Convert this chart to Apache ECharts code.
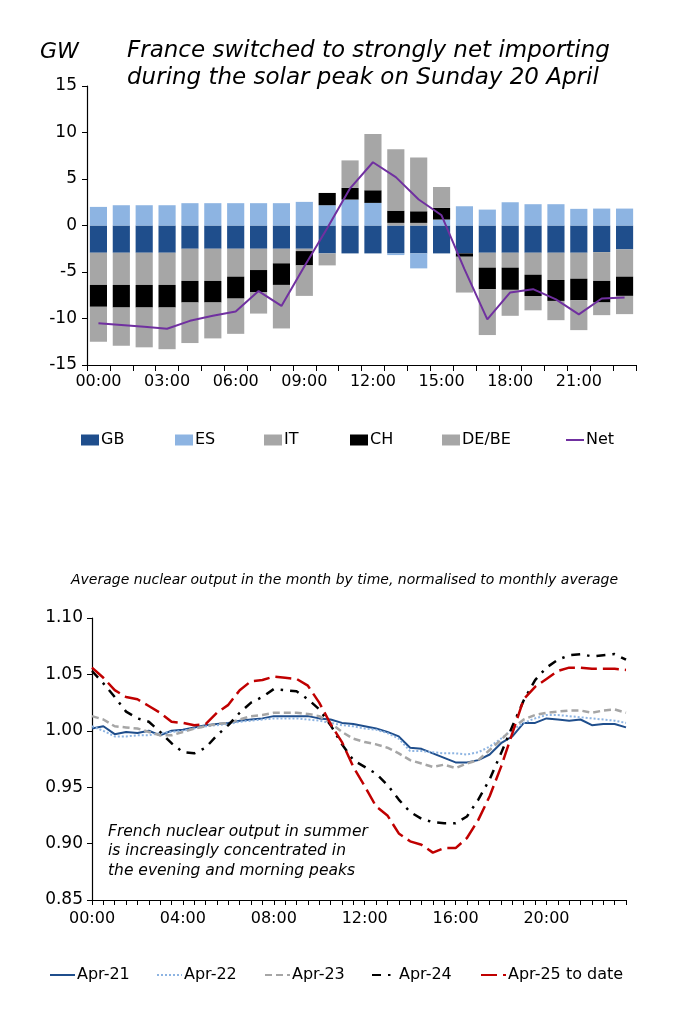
<!DOCTYPE html>
<html>
<head>
<meta charset="utf-8">
<script src="https://cdn.jsdelivr.net/npm/echarts@6/dist/echarts.min.js"></script>
<style>
html,body{margin:0;padding:0;background:#fff;}
#chart{width:690px;height:1024px;}
</style>
</head>
<body>
<div id="chart"></div>
<script>
// ---------- Top chart: hourly flows (GW) ----------
const hours = ['00:00','01:00','02:00','03:00','04:00','05:00','06:00','07:00','08:00','09:00','10:00','11:00',
  '12:00','13:00','14:00','15:00','16:00','17:00','18:00','19:00','20:00','21:00','22:00','23:00'];
const gbFlow = [-2.93,-2.93,-2.93,-2.93,-2.5,-2.5,-2.5,-2.5,-2.5,-2.5,-3.0,-3.0,-3.0,-3.0,-3.0,-3.0,-3.0,-2.93,-2.93,-2.93,-2.93,-2.93,-2.86,-2.57];
const esFlow = [2.0,2.18,2.18,2.18,2.4,2.4,2.4,2.4,2.4,2.54,2.18,2.79,2.43,-0.18,-1.61,0.64,2.07,1.71,2.5,2.29,2.29,1.79,1.82,1.82];
const itFlow = [-3.46,-3.46,-3.46,-3.46,-3.46,-3.46,-3.0,-2.29,-1.57,-0.25,-1.29,0,0,0.28,0.28,0,0,-1.6,-1.6,-2.36,-2.93,-2.79,-3.1,-2.93];
const chFlow = [-2.35,-2.43,-2.43,-2.43,-2.32,-2.32,-2.36,-2.36,-2.32,-1.54,1.32,1.25,1.36,1.32,1.25,1.25,-0.36,-2.32,-2.39,-2.29,-2.25,-2.32,-2.32,-2.07];
const debeFlow = [-3.76,-4.11,-4.28,-4.48,-4.36,-3.86,-3.79,-2.32,-4.68,-3.28,0,2.96,6.04,6.6,5.79,2.25,-3.85,-4.93,-2.79,-1.54,-2.07,-3.21,-1.36,-1.96];
const netFlow = [-10.5,-10.7,-10.9,-11.1,-10.25,-9.7,-9.25,-7.05,-8.65,-4.4,-0.3,4.0,6.8,5.2,2.8,1.1,-4.7,-10.1,-7.2,-6.85,-7.95,-9.55,-7.85,-7.75];
const topTicks = [-15,-10,-5,0,5,10,15];

// ---------- Bottom chart: normalised nuclear output ----------
const halfHours = ['00:00','00:30','01:00','01:30','02:00','02:30','03:00','03:30','04:00','04:30','05:00','05:30',
  '06:00','06:30','07:00','07:30','08:00','08:30','09:00','09:30','10:00','10:30','11:00','11:30',
  '12:00','12:30','13:00','13:30','14:00','14:30','15:00','15:30','16:00','16:30','17:00','17:30',
  '18:00','18:30','19:00','19:30','20:00','20:30','21:00','21:30','22:00','22:30','23:00','23:30'];
const apr21 = [1.002,1.004,0.997,0.999,0.998,1.000,0.996,1.000,1.001,1.003,1.005,1.006,1.007,1.009,1.010,1.011,1.013,1.013,1.013,1.013,1.011,1.010,1.007,1.006,
  1.004,1.002,0.999,0.995,0.985,0.984,0.980,0.976,0.972,0.972,0.974,0.979,0.989,0.995,1.007,1.007,1.011,1.010,1.009,1.010,1.005,1.006,1.006,1.003];
const apr22 = [1.004,1.000,0.995,0.995,0.996,0.996,0.998,0.999,1.000,1.002,1.004,1.005,1.006,1.008,1.009,1.010,1.011,1.011,1.011,1.010,1.009,1.007,1.005,1.004,
  1.002,1.001,0.998,0.993,0.982,0.982,0.981,0.980,0.980,0.979,0.981,0.986,0.993,1.001,1.007,1.011,1.014,1.014,1.013,1.012,1.011,1.010,1.009,1.007];
const apr23 = [1.013,1.010,1.004,1.003,1.002,0.999,0.996,0.996,0.999,1.002,1.004,1.006,1.007,1.010,1.013,1.014,1.016,1.016,1.016,1.015,1.013,1.007,0.999,0.993,
  0.990,0.988,0.985,0.980,0.974,0.971,0.968,0.970,0.967,0.971,0.974,0.983,0.992,1.002,1.010,1.014,1.016,1.017,1.018,1.018,1.016,1.018,1.019,1.016];
const apr24 = [1.053,1.042,1.030,1.017,1.011,1.008,0.999,0.989,0.981,0.980,0.985,0.996,1.005,1.016,1.025,1.030,1.037,1.036,1.035,1.028,1.019,1.005,0.988,0.974,
  0.968,0.962,0.952,0.939,0.928,0.922,0.919,0.918,0.918,0.924,0.939,0.957,0.980,1.004,1.027,1.045,1.056,1.063,1.067,1.068,1.066,1.067,1.068,1.063];
const apr25 = [1.056,1.047,1.036,1.030,1.028,1.022,1.016,1.008,1.007,1.005,1.006,1.016,1.023,1.036,1.044,1.045,1.048,1.047,1.046,1.040,1.025,1.006,0.990,0.968,
  0.951,0.933,0.925,0.909,0.902,0.899,0.892,0.896,0.896,0.905,0.921,0.942,0.968,0.998,1.028,1.039,1.046,1.053,1.056,1.056,1.055,1.055,1.055,1.054];
const bottomTicks = [0.85,0.90,0.95,1.00,1.05,1.10];

const FONT = 'DejaVu Sans';
const C_GB = '#1f4e8c', C_ES = '#8db4e2', C_GREY = '#a6a6a6', C_CH = '#000000', C_NET = '#7030a0', C_RED = '#c00000';

function legendAt(name, left, top, w, h, icon) {
  const l = { data: [name], left: left, top: top, itemWidth: w, itemHeight: h, padding: 0, itemGap: 0,
    selectedMode: false, textStyle: { fontFamily: FONT, fontSize: 16, color: '#000', padding: [0,0,0,-3] } };
  if (icon) l.icon = icon;
  else l.itemStyle = { opacity: 0 };
  return l;
}

const chart = echarts.init(document.getElementById('chart'), null, { renderer: 'canvas' });
const option = {
  animation: false,
  backgroundColor: '#fff',
  textStyle: { fontFamily: FONT },
  title: [
    { text: 'France switched to strongly net importing\nduring the solar peak on Sunday 20 April', left: 127, top: 38, padding: 0,
      textStyle: { fontFamily: FONT, fontSize: 23, fontStyle: 'italic', fontWeight: 'normal', lineHeight: 27, color: '#000' } },
    { text: 'GW', left: 40, top: 41, padding: 0, textStyle: { fontFamily: FONT, fontSize: 22, fontStyle: 'italic', fontWeight: 'normal', color: '#000' } },
    { text: 'Average nuclear output in the month by time, normalised to monthly average', left: 71, top: 573, padding: 0,
      textStyle: { fontFamily: FONT, fontSize: 14, fontStyle: 'italic', fontWeight: 'normal', color: '#000' } },
    { text: 'French nuclear output in summer\nis increasingly concentrated in\nthe evening and morning peaks', left: 108, top: 822, padding: 0,
      textStyle: { fontFamily: FONT, fontSize: 15.5, fontStyle: 'italic', fontWeight: 'normal', lineHeight: 19.5, color: '#000' } }
  ],
  legend: [
    legendAt('GB', 81, 432, 18, 11, 'rect'),
    legendAt('ES', 175, 432, 18, 11, 'rect'),
    legendAt('IT', 264, 432, 18, 11, 'rect'),
    legendAt('CH', 350, 432, 18, 11, 'rect'),
    legendAt('DE/BE', 442, 432, 18, 11, 'rect'),
    legendAt('Net', 565, 432, 18, 11),
    legendAt('Apr-21', 49, 967, 25, 12),
    legendAt('Apr-22', 156, 967, 25, 12),
    legendAt('Apr-23', 264, 967, 25, 12),
    legendAt('Apr-24', 371, 967, 25, 12),
    legendAt('Apr-25 to date', 480, 967, 25, 12)
  ],
  grid: [
    { left: 87, right: 54, top: 86, height: 279 },
    { left: 92, right: 64, top: 618, height: 282 }
  ],
  xAxis: [
    { type: 'category', gridIndex: 0, data: hours, boundaryGap: true,
      axisLine: { onZero: false, lineStyle: { color: '#000', width: 1.2 } },
      axisTick: { show: true, interval: 0, length: 6, lineStyle: { color: '#000' } },
      axisLabel: { interval: 2, fontSize: 16, color: '#000', margin: 9, fontFamily: FONT } },
    { type: 'category', gridIndex: 1, data: halfHours, boundaryGap: false,
      axisLine: { onZero: false, lineStyle: { color: '#000', width: 1.2 } },
      axisTick: { show: true, interval: 0, length: 5, lineStyle: { color: '#000' } },
      axisLabel: { interval: 7, fontSize: 16, color: '#000', margin: 11, fontFamily: FONT } }
  ],
  yAxis: [
    { type: 'value', gridIndex: 0, min: topTicks[0], max: topTicks[topTicks.length - 1], interval: 5,
      axisLine: { show: true, lineStyle: { color: '#000', width: 1.2 } },
      axisTick: { show: true, length: 5, lineStyle: { color: '#000' } },
      splitLine: { show: false },
      axisLabel: { fontSize: 17, color: '#000', margin: 10, fontFamily: FONT } },
    { type: 'value', gridIndex: 1, min: bottomTicks[0], max: bottomTicks[bottomTicks.length - 1], interval: 0.05,
      axisLine: { show: true, lineStyle: { color: '#000', width: 1.2 } },
      axisTick: { show: true, length: 5, lineStyle: { color: '#000' } },
      splitLine: { show: false },
      axisLabel: { fontSize: 17, color: '#000', margin: 9, fontFamily: FONT, formatter: v => v.toFixed(2) } }
  ],
  series: [
    { name: 'GB', type: 'bar', stack: 'flow', data: gbFlow, itemStyle: { color: C_GB }, barCategoryGap: '25%' },
    { name: 'ES', type: 'bar', stack: 'flow', data: esFlow, itemStyle: { color: C_ES } },
    { name: 'IT', type: 'bar', stack: 'flow', data: itFlow, itemStyle: { color: C_GREY } },
    { name: 'CH', type: 'bar', stack: 'flow', data: chFlow, itemStyle: { color: C_CH } },
    { name: 'DE/BE', type: 'bar', stack: 'flow', data: debeFlow, itemStyle: { color: C_GREY } },
    { name: 'Net', type: 'line', data: netFlow, symbol: 'none', z: 5,
      lineStyle: { color: C_NET, width: 2 }, itemStyle: { color: C_NET } },

    { name: 'Apr-21', type: 'line', xAxisIndex: 1, yAxisIndex: 1, data: apr21, symbol: 'none',
      lineStyle: { color: C_GB, width: 2 }, itemStyle: { color: C_GB } },
    { name: 'Apr-22', type: 'line', xAxisIndex: 1, yAxisIndex: 1, data: apr22, symbol: 'none',
      lineStyle: { color: C_ES, width: 2, type: [2, 2] }, itemStyle: { color: C_ES } },
    { name: 'Apr-23', type: 'line', xAxisIndex: 1, yAxisIndex: 1, data: apr23, symbol: 'none',
      lineStyle: { color: C_GREY, width: 2.5, type: [7, 4] }, itemStyle: { color: C_GREY } },
    { name: 'Apr-24', type: 'line', xAxisIndex: 1, yAxisIndex: 1, data: apr24, symbol: 'none',
      lineStyle: { color: C_CH, width: 2.5, type: [9, 7, 2.5, 7] }, itemStyle: { color: C_CH } },
    { name: 'Apr-25 to date', type: 'line', xAxisIndex: 1, yAxisIndex: 1, data: apr25, symbol: 'none',
      lineStyle: { color: C_RED, width: 2.5, type: [16, 6] }, itemStyle: { color: C_RED } }
  ]
};
chart.setOption(option);
</script>
</body>
</html>
